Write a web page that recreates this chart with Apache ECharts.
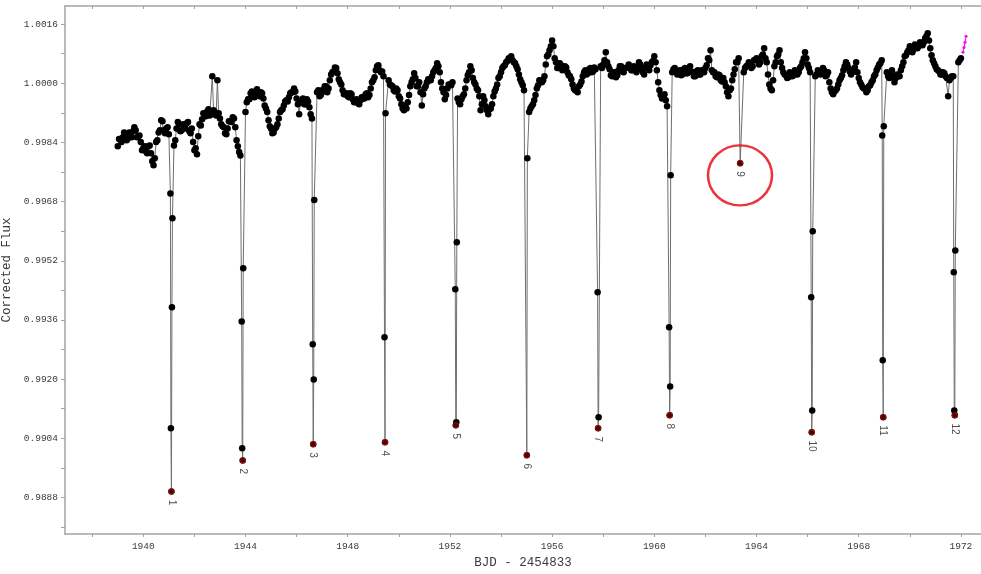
<!DOCTYPE html>
<html><head><meta charset="utf-8">
<script src="https://cdn.jsdelivr.net/npm/echarts@6/dist/echarts.min.js"></script>
<style>html,body{margin:0;padding:0;background:#fff}#c{width:981px;height:574px}</style>
</head><body><div id="c"></div>
<script>
// ---- data ----
const baseStart = 1939.0;   // BJD-2454833 of first baseline sample
const midStart = 1939.05;   // first in-between sample
const baseStep = 0.1;       // sample spacing (days)
const baseFlux = [
// 1939
0.99830,0.99849,0.99854,0.99859,0.99851,0.99862,0.99870,0.99873,0.99857,0.99841,
// 1940
0.99824,0.99816,0.99830,0.99811,0.99778,0.99841,0.99867,0.99900,0.99873,0.99878,
// 1941
0.99862,null,0.99832,0.99878,0.99889,0.99873,0.99884,0.99892,0.99870,0.99878,
// 1942
0.99819,0.99808,0.99889,0.99903,0.99916,0.99924,0.99913,1.00019,0.99922,1.00008,
// 1943
0.99905,0.99884,0.99865,0.99878,0.99897,0.99908,0.99881,0.99830,0.99805,null,
// 1944
0.99922,0.99957,0.99973,0.99965,0.99978,0.99968,0.99976,0.99959,0.99932,0.99900,
// 1945
0.99878,0.99867,0.99881,0.99905,0.99927,0.99940,0.99954,0.99962,0.99976,0.99986,
// 1946
0.99959,0.99916,0.99954,0.99943,0.99957,0.99935,0.99905,null,0.99976,0.99965,
// 1947
0.99981,0.99992,0.99976,1.00008,1.00030,1.00043,1.00027,1.00003,0.99981,0.99970,
// 1948
0.99965,0.99973,0.99957,0.99951,0.99946,0.99954,0.99959,0.99970,0.99962,0.99986,
// 1949
1.00008,1.00035,1.00049,1.00030,1.00019,null,1.00008,0.99995,0.99981,0.99986,
// 1950
0.99965,0.99943,0.99927,0.99932,0.99968,1.00003,1.00027,0.99992,1.00003,0.99940,
// 1951
0.99986,1.00003,1.00008,1.00019,1.00035,1.00054,1.00030,0.99986,0.99957,0.99986,
// 1952
0.99997,1.00003,null,0.99959,0.99943,0.99965,0.99986,1.00022,1.00046,1.00014,
// 1953
0.99997,0.99981,0.99927,0.99965,0.99938,0.99916,0.99932,0.99965,0.99986,1.00014,
// 1954
1.00030,1.00046,1.00057,1.00068,1.00073,1.00057,1.00046,1.00024,1.00003,0.99981,
// 1955
null,0.99922,0.99938,0.99954,0.99986,1.00008,1.00003,1.00019,1.00073,1.00089,
// 1956
1.00116,1.00068,1.00041,1.00054,1.00035,1.00046,1.00030,1.00019,0.99997,0.99981,
// 1957
0.99976,0.99997,1.00019,1.00035,1.00027,1.00041,1.00032,1.00038,null,1.00046,
// 1958
1.00051,1.00084,1.00046,1.00022,1.00030,1.00016,1.00035,1.00046,1.00030,1.00041,
// 1959
1.00051,1.00035,1.00046,1.00030,1.00057,1.00041,1.00024,1.00051,1.00035,1.00057,
// 1960
1.00073,1.00035,0.99981,0.99959,0.99970,0.99938,null,1.00030,1.00041,1.00024,
// 1961
1.00035,1.00024,1.00041,1.00027,1.00046,1.00030,1.00019,1.00035,1.00024,1.00032,
// 1962
1.00041,1.00068,1.00089,1.00030,1.00019,1.00024,1.00008,1.00014,0.99992,0.99965,
// 1963
0.99986,1.00024,1.00057,1.00068,null,1.00030,1.00046,1.00057,1.00041,1.00062,
// 1964
1.00068,1.00051,1.00073,1.00095,1.00057,0.99997,0.99981,1.00046,1.00073,1.00089,
// 1965
1.00041,1.00024,1.00014,1.00030,1.00019,1.00035,1.00024,1.00041,1.00057,1.00084,
// 1966
1.00051,1.00030,null,1.00019,1.00035,1.00024,1.00041,1.00019,1.00030,0.99986,
// 1967
0.99970,0.99981,0.99997,1.00014,1.00035,1.00057,1.00041,1.00024,1.00035,1.00057,
// 1968
1.00014,0.99997,0.99986,0.99976,0.99992,1.00003,1.00019,1.00035,1.00051,1.00062,
// 1969
null,1.00030,1.00014,1.00035,1.00003,1.00024,1.00019,1.00046,1.00073,1.00084,
// 1970
1.00100,1.00084,1.00105,1.00095,1.00111,1.00103,1.00122,1.00135,1.00095,1.00062,
// 1971
1.00046,1.00035,1.00024,1.00030,1.00019,0.99965,1.00014,1.00019,null,1.00057,
// 1972
1.00068
];

// in-between samples (scatter of the band), at midStart + i*baseStep
const midFlux = [
// 1939
0.99849,0.99841,0.99867,0.99846,0.99867,0.99854,0.99881,0.99854,0.99859,0.99819,
// 1940
0.99830,0.99811,0.99832,0.99789,0.99797,0.99846,0.99873,0.99897,0.99865,0.99881,
// 1941
null,null,0.99846,0.99895,0.99870,0.99889,0.99878,0.99895,0.99865,0.99841,
// 1942
0.99824,0.99857,0.99886,0.99919,0.99911,0.99930,0.99916,0.99927,0.99913,0.99919,
// 1943
0.99889,0.99881,0.99862,0.99897,0.99895,0.99905,0.99846,0.99814,null,null,
// 1944
0.99949,0.99957,0.99978,0.99962,0.99984,0.99965,0.99973,0.99940,0.99922,0.99884,
// 1945
0.99865,0.99878,0.99889,0.99922,0.99930,0.99951,0.99951,0.99973,0.99976,0.99978,
// 1946
0.99943,0.99949,0.99959,0.99943,0.99951,0.99916,null,null,0.99981,0.99968,
// 1947
0.99978,0.99992,0.99986,1.00024,1.00032,1.00041,1.00011,0.99997,0.99970,0.99973,
// 1948
0.99962,0.99970,0.99949,0.99957,0.99943,0.99962,0.99959,0.99973,0.99968,1.00003,
// 1949
1.00016,1.00046,1.00035,1.00032,null,null,0.99997,0.99992,0.99978,0.99981,
// 1950
0.99959,0.99932,0.99940,0.99949,0.99992,1.00011,1.00014,0.99992,0.99976,0.99970,
// 1951
0.99992,1.00011,1.00008,1.00030,1.00041,1.00046,1.00003,0.99976,0.99968,0.99997,
// 1952
0.99995,null,null,0.99949,0.99957,0.99970,1.00008,1.00030,1.00035,1.00003,
// 1953
0.99986,0.99965,0.99943,0.99954,0.99927,0.99930,0.99943,0.99978,0.99997,1.00019,
// 1954
1.00041,1.00049,1.00060,1.00065,1.00062,1.00054,1.00038,1.00011,0.99995,null,
// 1955
null,0.99932,0.99943,0.99968,0.99995,1.00008,1.00008,1.00051,1.00078,1.00100,
// 1956
1.00100,1.00057,1.00041,1.00049,1.00038,1.00043,1.00022,1.00011,0.99986,0.99981,
// 1957
0.99992,1.00005,1.00030,1.00024,1.00038,1.00030,1.00043,null,null,1.00041,
// 1958
1.00062,1.00057,1.00038,1.00019,1.00030,1.00022,1.00046,1.00032,1.00041,1.00043,
// 1959
1.00041,1.00035,1.00043,1.00038,1.00051,1.00030,1.00043,1.00041,1.00049,1.00060,
// 1960
1.00057,1.00003,0.99968,0.99962,0.99954,null,null,1.00038,1.00030,1.00032,
// 1961
1.00022,1.00038,1.00027,1.00041,1.00032,1.00019,1.00032,1.00024,1.00035,1.00030,
// 1962
1.00049,1.00062,1.00035,1.00030,1.00016,1.00022,1.00005,1.00003,0.99976,0.99981,
// 1963
1.00008,1.00038,1.00057,null,null,1.00041,1.00049,1.00051,1.00046,1.00062,
// 1964
1.00062,1.00057,1.00078,1.00068,1.00024,0.99986,1.00008,1.00057,1.00078,1.00057,
// 1965
1.00030,1.00022,1.00016,1.00027,1.00022,1.00032,1.00030,1.00046,1.00068,1.00068,
// 1966
1.00041,null,null,1.00024,1.00032,1.00030,1.00035,1.00022,1.00003,0.99976,
// 1967
0.99978,0.99986,1.00008,1.00022,1.00046,1.00051,1.00032,1.00030,1.00043,1.00030,
// 1968
1.00003,0.99989,0.99986,0.99981,0.99995,1.00008,1.00024,1.00043,1.00054,null,
// 1969
null,1.00019,1.00027,1.00016,1.00014,1.00019,1.00035,1.00057,1.00076,1.00089,
// 1970
1.00095,1.00092,1.00103,1.00100,1.00105,1.00111,1.00127,1.00116,1.00076,1.00054,
// 1971
1.00038,1.00032,1.00024,1.00027,1.00014,1.00008,1.00019,null,null,1.00062
];

const dipTimes = [
  [1941.06,1941.08,1941.10,1941.12,1941.14],
  [1943.85,1943.87,1943.89,1943.91],
  [1946.63,1946.65,1946.67,1946.69],
  [1949.44,1949.46,1949.48],
  [1952.21,1952.23,1952.25,1952.27],
  [1955.01,1955.03],
  [1957.78,1957.80,1957.82],
  [1960.58,1960.60,1960.62,1960.64],
  [1963.36],
  [1966.14,1966.16,1966.18,1966.20],
  [1968.92,1968.94,1968.96,1968.98],
  [1971.72,1971.74,1971.76,1971.78]
];
const dipFlux = [
  [0.99702,0.99067,0.98896,0.99394,0.99635],
  [0.99356,0.99013,0.98980,0.99500],
  [0.99294,0.99024,0.99199,0.99684],
  [0.99313,0.99029,0.99919],
  [0.99443,0.99075,0.99083,0.99570],
  [0.98994,0.99797],
  [0.99435,0.99067,0.99097],
  [0.99340,0.99102,0.99180,0.99751],
  [0.99784],
  [0.99421,0.99056,0.99115,0.99600],
  [0.99859,0.99251,0.99097,0.99884],
  [0.99489,0.99115,0.99102,0.99548]
];
const dipLabels = ['1','2','3','4','5','6','7','8','9','10','11','12'];

const tailTimes = [1972.08,1972.12,1972.16,1972.20];
const tailFlux  = [1.00084,1.00097,1.00111,1.00127];

const markedDip = {t: 1963.354, f: 0.99751};  // circled transit 9 annotation centre

const xLabelTicks = [1940,1944,1948,1952,1956,1960,1964,1968,1972];
const xMinorTicks = [1938,1940,1942,1944,1946,1948,1950,1952,1954,1956,1958,1960,1962,1964,1966,1968,1970,1972];
const yLabelTicks = [0.9888,0.9904,0.9920,0.9936,0.9952,0.9968,0.9984,1.0000,1.0016];
const yMinorTicks = [0.9880,0.9888,0.9896,0.9904,0.9912,0.9920,0.9928,0.9936,0.9944,0.9952,0.9960,0.9968,0.9976,0.9984,0.9992,1.0000,1.0008,1.0016];

// ---- build series ----
const pts = [];
baseFlux.forEach((f, i) => { if (f !== null) pts.push([+(baseStart + i * baseStep).toFixed(3), f]); });
midFlux.forEach((f, i) => { if (f !== null) pts.push([+(midStart + i * baseStep).toFixed(3), f]); });
dipTimes.forEach((ts, k) => ts.forEach((t, j) => pts.push([t, dipFlux[k][j]])));
pts.sort((a, b) => a[0] - b[0]);

const minima = dipTimes.map((ts, k) => {
  const fl = dipFlux[k];
  let m = 0;
  fl.forEach((v, j) => { if (v < fl[m]) m = j; });
  return {name: dipLabels[k], value: [ts[m], fl[m]]};
});

const mono = 'Liberation Mono';
const axisGray = '#a3a3a3';
const textCol = '#3a3a3a';

const chart = echarts.init(document.getElementById('c'));
chart.setOption({
  animation: false,
  backgroundColor: '#fff',
  grid: {left: 65, right: 0, top: 6, bottom: 40, containLabel: false, outerBoundsMode: 'none'},
  xAxis: [{
    type: 'value', min: 1936.935, max: 1972.786, position: 'bottom',
    name: 'BJD - 2454833', nameLocation: 'middle', nameGap: 22,
    nameTextStyle: {fontFamily: mono, fontSize: 12.5, color: textCol},
    axisLine: {show: true, lineStyle: {color: axisGray, width: 1.5}},
    axisTick: {show: true, inside: false, length: 3, customValues: xMinorTicks, lineStyle: {color: axisGray}},
    axisLabel: {show: true, customValues: xLabelTicks, margin: 7, fontFamily: mono, fontSize: 9.5, color: textCol,
      formatter: v => String(Math.round(v))},
    splitLine: {show: false}
  }, {
    type: 'value', min: 1936.935, max: 1972.786, position: 'top',
    axisLine: {show: true, lineStyle: {color: axisGray, width: 1.5}},
    axisTick: {show: true, inside: true, length: 3, customValues: xMinorTicks, lineStyle: {color: axisGray}},
    axisLabel: {show: false},
    splitLine: {show: false}
  }],
  yAxis: {
    type: 'value', min: 0.98781, max: 1.00209,
    name: 'Corrected Flux', nameLocation: 'middle', nameGap: 44, nameRotate: 90,
    nameTextStyle: {fontFamily: mono, fontSize: 12.5, color: textCol},
    axisLine: {show: true, lineStyle: {color: axisGray, width: 1.5}},
    axisTick: {show: true, inside: false, length: 4, customValues: yMinorTicks, lineStyle: {color: axisGray}},
    axisLabel: {show: true, customValues: yLabelTicks, margin: 7, fontFamily: mono, fontSize: 9.5, color: textCol,
      formatter: v => v.toFixed(4)},
    splitLine: {show: false}
  },
  series: [
    {
      type: 'line', data: pts, xAxisIndex: 0,
      symbol: 'circle', symbolSize: 6.5, showSymbol: true, showAllSymbol: true,
      itemStyle: {color: '#000'}, lineStyle: {color: '#6f6f6f', width: 1},
      silent: true, z: 2
    },
    {
      type: 'line', data: tailTimes.map((t, i) => [t, tailFlux[i]]), xAxisIndex: 0,
      symbol: 'circle', symbolSize: 3, itemStyle: {color: '#ff00ff'}, lineStyle: {color: '#ff00ff', width: 1},
      silent: true, z: 3
    },
    {
      type: 'scatter', data: minima, xAxisIndex: 0,
      symbol: 'circle', symbolSize: 5.5,
      itemStyle: {color: '#5e0606', borderColor: '#e01010', borderWidth: 0.8},
      label: {show: true, position: 'bottom', distance: 5, rotate: -90, align: 'left', verticalAlign: 'middle',
        formatter: p => p.name, fontFamily: 'Liberation Sans', fontSize: 10, color: '#222'},
      silent: true, z: 4
    },
    {
      type: 'scatter', data: [[markedDip.t, markedDip.f]], xAxisIndex: 0,
      symbol: 'circle', symbolSize: [64, 60],
      itemStyle: {color: 'rgba(0,0,0,0)', borderColor: '#e8000b', borderWidth: 2.5},
      silent: true, z: 5
    }
  ]
});
</script>
</body></html>
